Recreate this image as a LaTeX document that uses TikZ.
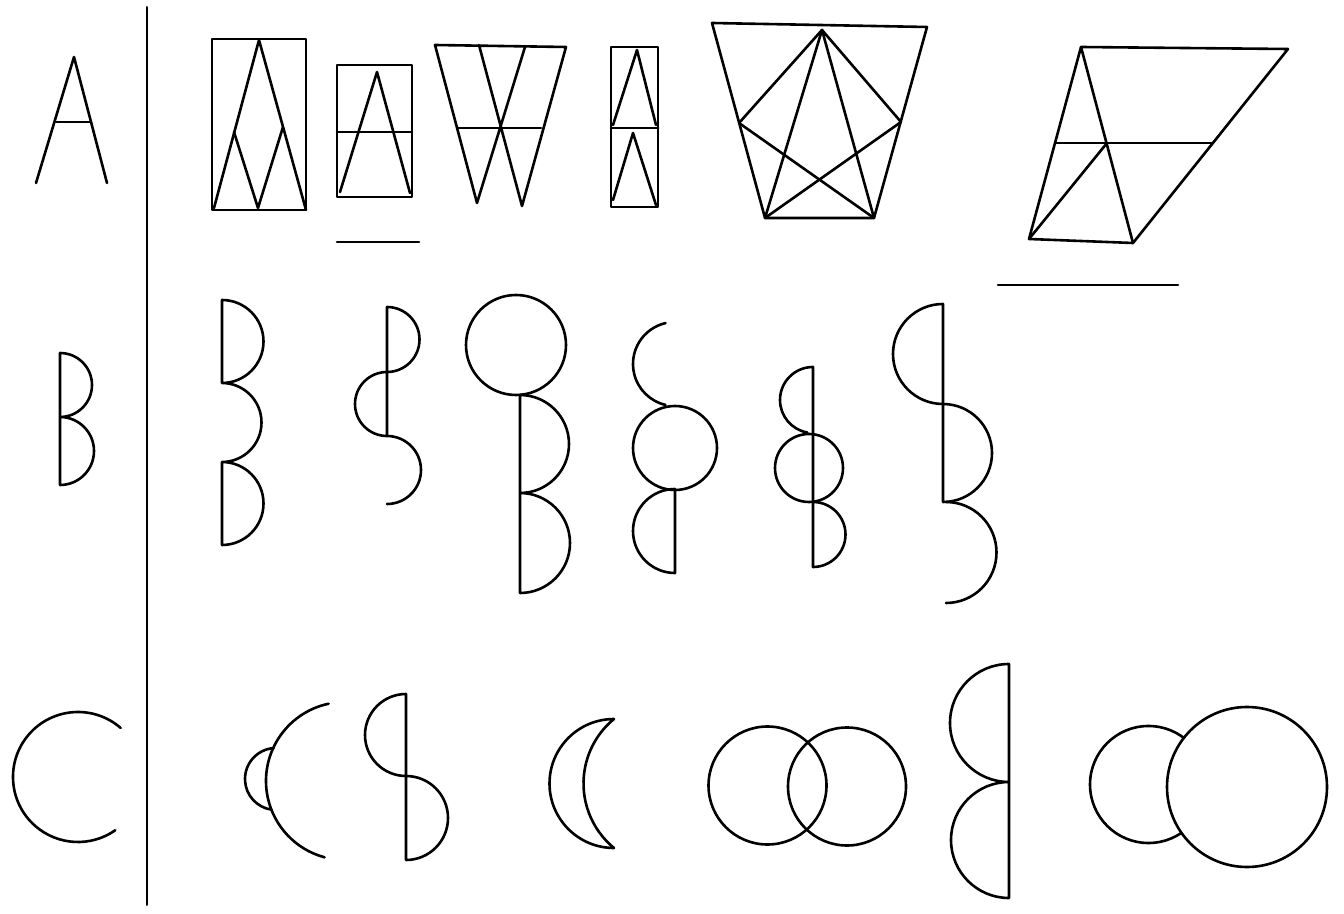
\documentclass[tikz,border=0pt]{standalone}
\begin{document}
\begin{tikzpicture}[x=0.5pt, y=-0.5pt, line width=1.3pt, line join=round, line cap=round,
  divider/.style={line width=1pt}]
\useasboundingbox (0,0) rectangle (1344,914);
\draw[divider] (147,7) -- (147,905);
% row A
\draw (36,183) -- (74,57) -- (107,183);
\draw (56,122) -- (91,122);
\draw (212,39) rectangle (306,210);
\draw (214,208) -- (259,40) -- (306,210);
\draw (234,132) -- (258,208) -- (283,127);
\draw (337,65) rectangle (412,197);
\draw (337,132) -- (412,132);
\draw (340,192) -- (377,72) -- (410,193);
\draw (337,242) -- (419,242);
\draw (479,45) -- (522,206) -- (566,47) -- (435,45) -- (477,203) -- (525,47);
\draw (458,128) -- (541,128);
\draw (611,47) rectangle (658,207);
\draw (611,128) -- (658,128);
\draw (613,125) -- (637,50) -- (656,125);
\draw (613,200) -- (633,133) -- (656,205);
\draw (712,23) -- (927,27) -- (874,218) -- (765,218) -- cycle;
\draw (739,123) -- (822,30) -- (901,122);
\draw (765,218) -- (822,30) -- (874,218);
\draw (739,123) -- (874,218);
\draw (901,122) -- (765,218);
\draw (1081,47) -- (1288,49) -- (1133,243) -- (1029,239) -- cycle;
\draw (1081,47) -- (1133,243);
\draw (1055,143) -- (1213,143);
\draw (1029,239) -- (1107,143);
\draw (998,285) -- (1178,285);
% row B
\draw (60,485) -- (60,353) arc[start angle=-90, end angle=90, radius=32]
  arc[start angle=-90, end angle=90, radius=34];
\draw (222,383) -- (222,300) arc[start angle=-90, end angle=90, radius=41.5]
  arc[start angle=-90, end angle=90, radius=39.5]
  arc[start angle=-90, end angle=90, radius=41.5] -- (222,462);
\draw (387,436) -- (387,307) arc[start angle=-90, end angle=90, radius=32.5]
  arc[start angle=-90, end angle=-270, radius=32]
  arc[start angle=-90, end angle=90, radius=34];
\draw (516,345) circle[radius=50];
\draw (520,593) -- (520,395) arc[start angle=-90, end angle=90, radius=49]
  arc[start angle=-90, end angle=90, radius=50];
\draw (675,364) ++(-103:42) arc[start angle=-103, end angle=-257, radius=42];
\draw (675,448) circle[radius=42];
\draw (675,489) -- (675,573) arc[start angle=90, end angle=270, radius=42];
\draw (813,567) -- (813,367) arc[start angle=-90, end angle=-260, radius=33];
\draw (809,468) circle[radius=34];
\draw (813,502) arc[start angle=-90, end angle=90, radius=32.5];
\draw (943,502) -- (943,304) arc[start angle=-90, end angle=-270, radius=50]
  arc[start angle=-90, end angle=90, radius=49];
\draw (946,502) arc[start angle=-90, end angle=90, radius=50.5];
% row C
\draw (78,777) ++(-49:65) arc[start angle=-49, end angle=-305, radius=65];
\draw (345,781) ++(-102:79) arc[start angle=-102, end angle=-255, radius=79];
\draw (276,779) ++(-94:31) arc[start angle=-94, end angle=-261, radius=31];
\draw (406,860) -- (406,694) arc[start angle=-90, end angle=-270, radius=41]
  arc[start angle=-90, end angle=90, radius=42];
\draw (614,783.5) ++(-90:64.5) arc[start angle=-90, end angle=-270, radius=64.5]
  arc[start angle=129.4, end angle=230.6, radius=83.5] -- cycle;
\draw (767.5,785.5) circle[radius=59];
\draw (847,786.5) circle[radius=59];
\draw (1009,898) -- (1009,664) arc[start angle=-90, end angle=-270, radius=59]
  arc[start angle=-90, end angle=-270, radius=58];
\draw (1148.5,784.5) circle[radius=58.5];
\draw[fill=white] (1247,787) circle[radius=80];
\end{tikzpicture}
\end{document}
